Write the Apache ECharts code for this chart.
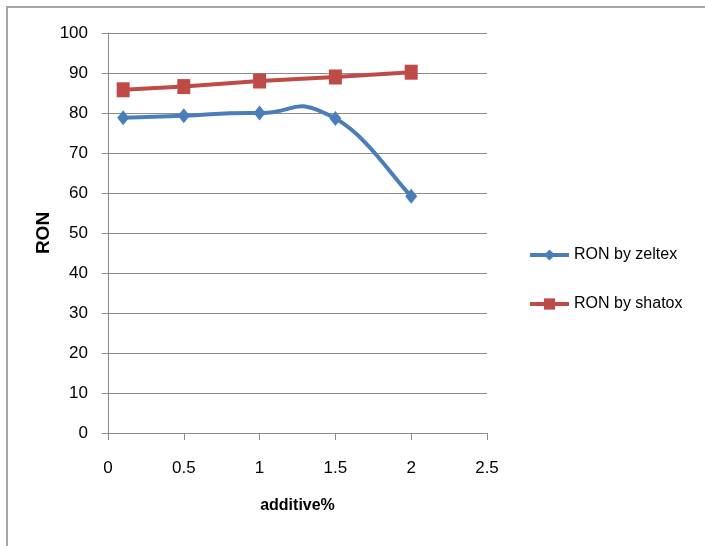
<!DOCTYPE html>
<html>
<head>
<meta charset="utf-8">
<script src="https://cdn.jsdelivr.net/npm/echarts@6/dist/echarts.min.js"></script>
<style>
html,body{margin:0;padding:0;background:#fff;}
#chart{width:705px;height:546px;}
</style>
</head>
<body>
<div id="chart"></div>
<script>
var additive = [0.1, 0.5, 1, 1.5, 2];
var ronZeltex = [78.8, 79.3, 80.0, 78.6, 59.2];
var ronShatox = [85.8, 86.6, 88, 89, 90.2];
var xTicks = { min: 0, max: 2.5, interval: 0.5 };
var yTicks = { min: 0, max: 100, interval: 10 };

function pairs(xs, ys) { return xs.map(function (x, i) { return [x, ys[i]]; }); }

var font = 'Liberation Sans';
var blue = '#4a7ebb', red = '#be4b48';
var tension = 0.5;

// Excel-like smoothed curve segment, computed in pixel space from the axis scales
function renderSmooth(params, api) {
  var n = additive.length;
  var i = params.dataIndex;
  if (i >= n - 1) return null;
  var P = additive.map(function (x, k) { return api.coord([x, ronZeltex[k]]); });
  function dist(a, b) { return Math.sqrt((a[0]-b[0])*(a[0]-b[0]) + (a[1]-b[1])*(a[1]-b[1])); }
  function cps(k) {
    var p = P[k];
    if (k === 0 || k === n - 1) {
      var a0 = P[Math.max(0, k - 1)], b0 = P[Math.min(n - 1, k + 1)];
      var v0 = [b0[0] - a0[0], b0[1] - a0[1]];
      var f = tension * 0.5;
      return { inn: [p[0] - v0[0]*f, p[1] - v0[1]*f], out: [p[0] + v0[0]*f, p[1] + v0[1]*f] };
    }
    var v = [P[k+1][0]-P[k-1][0], P[k+1][1]-P[k-1][1]];
    var lp = dist(p, P[k-1]), ln = dist(p, P[k+1]);
    var fi = tension * ln / (lp + ln), fo = tension * lp / (lp + ln);
    return { inn: [p[0] - v[0]*fi, p[1] - v[1]*fi], out: [p[0] + v[0]*fo, p[1] + v[1]*fo] };
  }
  var a = cps(i), b = cps(i + 1);
  return {
    type: 'bezierCurve',
    shape: {
      x1: P[i][0], y1: P[i][1], x2: P[i+1][0], y2: P[i+1][1],
      cpx1: a.out[0], cpy1: a.out[1], cpx2: b.inn[0], cpy2: b.inn[1]
    },
    style: { stroke: blue, lineWidth: 4, fill: null, lineCap: 'round' },
    silent: true
  };
}

var chart = echarts.init(document.getElementById('chart'));
chart.setOption({
  animation: false,
  backgroundColor: '#fff',
  graphic: [{
    type: 'rect',
    shape: { x: 7, y: 7, width: 760, height: 600 },
    style: { fill: 'none', stroke: '#a6a6a6', lineWidth: 2 },
    silent: true
  }],
  grid: { left: 108, right: 218, top: 33, bottom: 113 },
  legend: {
    orient: 'vertical',
    left: 523,
    top: 242,
    itemWidth: 39,
    itemHeight: 14,
    itemGap: 33,
    textStyle: { fontFamily: font, fontSize: 16, color: '#000' },
    data: [
      { name: 'RON by zeltex', lineStyle: { width: 4, opacity: 1, color: blue } },
      { name: 'RON by shatox', lineStyle: { width: 4, opacity: 1, color: red } }
    ]
  },
  xAxis: {
    type: 'value',
    min: xTicks.min, max: xTicks.max, interval: xTicks.interval,
    name: 'additive%',
    nameLocation: 'middle',
    nameGap: 65,
    nameTextStyle: { fontFamily: font, fontSize: 16, fontWeight: 'bold', color: '#000' },
    axisLine: { lineStyle: { color: '#8c8c8c', width: 1 } },
    axisTick: { show: true, length: 7, lineStyle: { color: '#8c8c8c' } },
    axisLabel: { fontFamily: font, fontSize: 17, color: '#000', margin: 27 },
    splitLine: { show: false }
  },
  yAxis: {
    type: 'value',
    min: yTicks.min, max: yTicks.max, interval: yTicks.interval,
    name: 'RON',
    nameLocation: 'middle',
    nameGap: 55,
    nameMoveOverlap: false,
    nameTextStyle: { fontFamily: font, fontSize: 19, fontWeight: 'bold', color: '#000' },
    axisLine: { show: true, lineStyle: { color: '#8c8c8c', width: 1 } },
    axisTick: { show: true, length: 6, lineStyle: { color: '#8c8c8c' } },
    axisLabel: { fontFamily: font, fontSize: 17, color: '#000', margin: 20 },
    splitLine: { show: true, lineStyle: { color: '#8c8c8c', width: 1 } }
  },
  series: [
    {
      name: 'zeltex curve',
      type: 'custom',
      coordinateSystem: 'cartesian2d',
      encode: { x: 0, y: 1 },
      renderItem: renderSmooth,
      data: pairs(additive, ronZeltex),
      z: 1,
      silent: true
    },
    {
      name: 'RON by zeltex',
      type: 'line',
      data: pairs(additive, ronZeltex),
      symbol: 'diamond',
      symbolSize: [12, 15],
      color: blue,
      lineStyle: { width: 4, color: blue, opacity: 0 },
      itemStyle: { color: blue },
      z: 3
    },
    {
      name: 'RON by shatox',
      type: 'line',
      smooth: false,
      data: pairs(additive, ronShatox),
      symbol: 'rect',
      symbolSize: [13, 15],
      color: red,
      lineStyle: { width: 4, color: red },
      itemStyle: { color: red },
      z: 3
    }
  ]
});
</script>
</body>
</html>
